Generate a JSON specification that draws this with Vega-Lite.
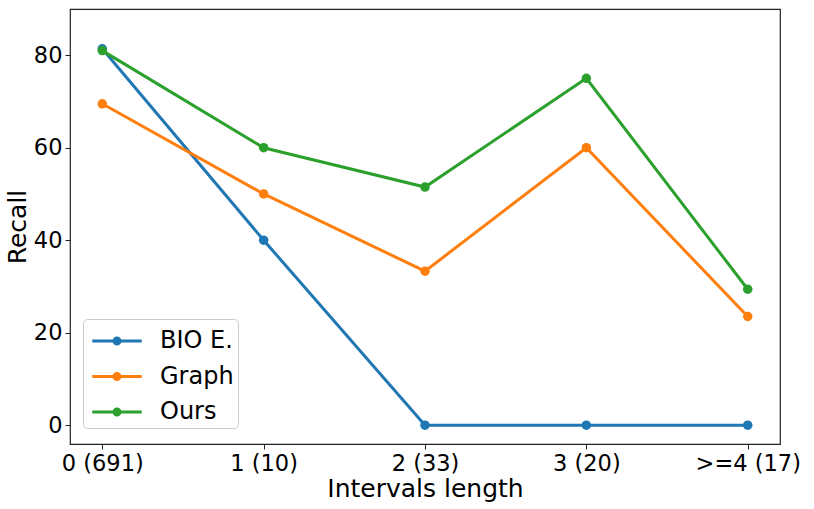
{
  "$schema": "https://vega.github.io/schema/vega-lite/v6.json",
  "width": 710,
  "height": 435,
  "autosize": "none",
  "padding": {"left": 70, "top": 9, "right": 34, "bottom": 65},
  "background": "white",
  "config": {
    "font": "DejaVu Sans",
    "view": {"stroke": "#222222", "strokeWidth": 1.2},
    "axis": {
      "grid": false,
      "domain": false,
      "tickColor": "#222222",
      "tickSize": 5,
      "labelColor": "black",
      "titleColor": "black",
      "labelFont": "DejaVu Sans",
      "titleFont": "DejaVu Sans",
      "labelFontSize": 22.5,
      "titleFontSize": 25,
      "titleFontWeight": "normal"
    }
  },
  "data": {
    "values": [
      {"length": "0 (691)", "method": "BIO E.", "recall": 81.4},
      {"length": "1 (10)", "method": "BIO E.", "recall": 40},
      {"length": "2 (33)", "method": "BIO E.", "recall": 0},
      {"length": "3 (20)", "method": "BIO E.", "recall": 0},
      {"length": ">=4 (17)", "method": "BIO E.", "recall": 0},
      {"length": "0 (691)", "method": "Graph", "recall": 69.5},
      {"length": "1 (10)", "method": "Graph", "recall": 50},
      {"length": "2 (33)", "method": "Graph", "recall": 33.3},
      {"length": "3 (20)", "method": "Graph", "recall": 60},
      {"length": ">=4 (17)", "method": "Graph", "recall": 23.5},
      {"length": "0 (691)", "method": "Ours", "recall": 81.0},
      {"length": "1 (10)", "method": "Ours", "recall": 60},
      {"length": "2 (33)", "method": "Ours", "recall": 51.5},
      {"length": "3 (20)", "method": "Ours", "recall": 75},
      {"length": ">=4 (17)", "method": "Ours", "recall": 29.4}
    ]
  },
  "encoding": {
    "x": {
      "field": "length",
      "type": "ordinal",
      "sort": ["0 (691)", "1 (10)", "2 (33)", "3 (20)", ">=4 (17)"],
      "scale": {"type": "point", "padding": 0.2},
      "title": "Intervals length",
      "axis": {"labelAngle": 0, "labelPadding": 3, "titlePadding": 2}
    },
    "y": {
      "field": "recall",
      "type": "quantitative",
      "scale": {"domain": [-4.07, 90], "nice": false, "zero": false},
      "title": "Recall",
      "axis": {"values": [0, 20, 40, 60, 80], "labelPadding": 3, "titlePadding": 3}
    },
    "color": {
      "field": "method",
      "type": "nominal",
      "scale": {
        "domain": ["BIO E.", "Graph", "Ours"],
        "range": ["#1f77b4", "#ff7f0e", "#2ca02c"]
      },
      "legend": {
        "title": null,
        "orient": "none",
        "legendX": 13,
        "legendY": 310,
        "fillColor": "white",
        "strokeColor": "#cccccc",
        "cornerRadius": 4,
        "padding": 4,
        "symbolType": "M-1.5,0H1.5M0.18,0A0.18,0.18 0 1,1 -0.18,0A0.18,0.18 0 1,1 0.18,0",
        "symbolSize": 1089,
        "symbolStrokeWidth": 3,
        "symbolFillColor": "transparent",
        "symbolOffset": 12,
        "labelOffset": 25,
        "labelFontSize": 24,
        "labelColor": "black",
        "rowPadding": 5.5
      }
    }
  },
  "layer": [
    {"mark": {"type": "line", "strokeWidth": 3}},
    {"mark": {"type": "circle", "size": 90, "opacity": 1}}
  ]
}
